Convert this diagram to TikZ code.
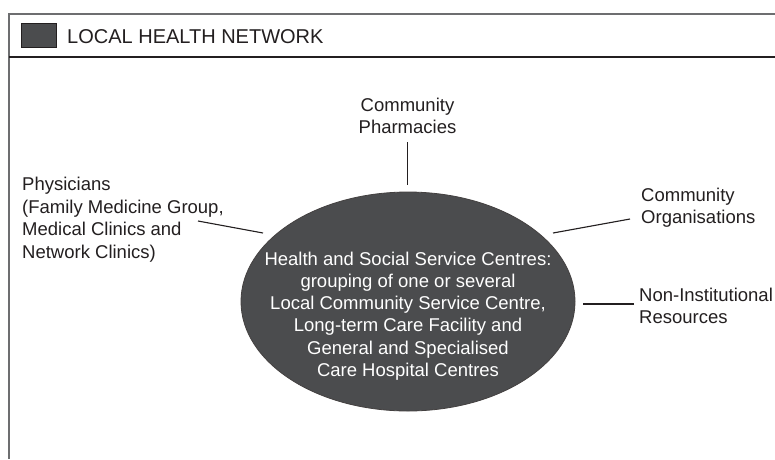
\documentclass[tikz,border=0pt]{standalone}
\usepackage{fontspec}
\setmainfont{Liberation Sans}
\usetikzlibrary{shapes.geometric}
\definecolor{hubgray}{HTML}{4B4C4E}
\definecolor{inkdark}{HTML}{231F20}
\definecolor{framegray}{HTML}{6D6E70}

\begin{document}
\begin{tikzpicture}[x=1pt,y=-1pt,
  lbl/.style={font=\fontsize{18.5}{22.2}\selectfont, text=inkdark, inner sep=0pt},
  link/.style={draw=inkdark, line width=1.1pt},
  hubshape/.style={ellipse, draw=inkdark!85, line width=0.8pt, fill=hubgray,
    minimum width=334pt, minimum height=219pt, inner sep=0pt}]
\useasboundingbox (0,0) rectangle (775,459);
\fill[white] (0,0) rectangle (775,459);

% outer frame, open to the right and bottom, with the header rule
\draw[framegray, line width=1.4pt] (775,14) -- (9,14) -- (9,459);
\draw[inkdark, line width=1.8pt] (9,57) -- (775,57);

% header: colour key and title
\node[draw=inkdark, line width=0.8pt, fill=hubgray, minimum width=35pt,
  minimum height=24pt, inner sep=0pt] (key) at (39,35.5) {};
\node[lbl, font=\fontsize{20}{24}\selectfont, anchor=base west] (title) at (67,43.5)
  {LOCAL HEALTH NETWORK};

% central hub
\node[hubshape] (hub) at (408,301.5) {};
\node[lbl, text=white, align=center] (hubtext) at (408,316)
  {Health and Social Service Centres:\\grouping of one or several\\
   Local Community Service Centre,\\Long-term Care Facility and\\
   General and Specialised\\Care Hospital Centres};

% surrounding partners
\node[lbl, align=center, anchor=north] (pharm) at (407.5,97.5)
  {Community\\Pharmacies};
\node[lbl, font=\fontsize{18.5}{22.6}\selectfont, align=left, anchor=north west]
  (phys) at (22,177)
  {Physicians\\(Family Medicine Group,\\Medical Clinics and\\Network Clinics)};
\node[lbl, align=left, anchor=north west] (orgs) at (641,188)
  {Community\\Organisations};
\node[lbl, align=left, anchor=north west] (noninst) at (639,288)
  {Non-Institutional\\Resources};

% connector end points (the lines stop short of the texts and the hub)
\coordinate (pharm-end) at (407.5,142);
\coordinate (hub-n) at (407.5,185);
\coordinate (phys-end) at (198,221);
\coordinate (hub-nw) at (263,233);
\coordinate (orgs-end) at (630,219);
\coordinate (hub-ne) at (553,233);
\coordinate (noninst-end) at (634,304);
\coordinate (hub-e) at (583,304);

\draw[link] (pharm-end) -- (hub-n);
\draw[link] (phys-end) -- (hub-nw);
\draw[link] (orgs-end) -- (hub-ne);
\draw[link] (noninst-end) -- (hub-e);
\end{tikzpicture}
\end{document}
